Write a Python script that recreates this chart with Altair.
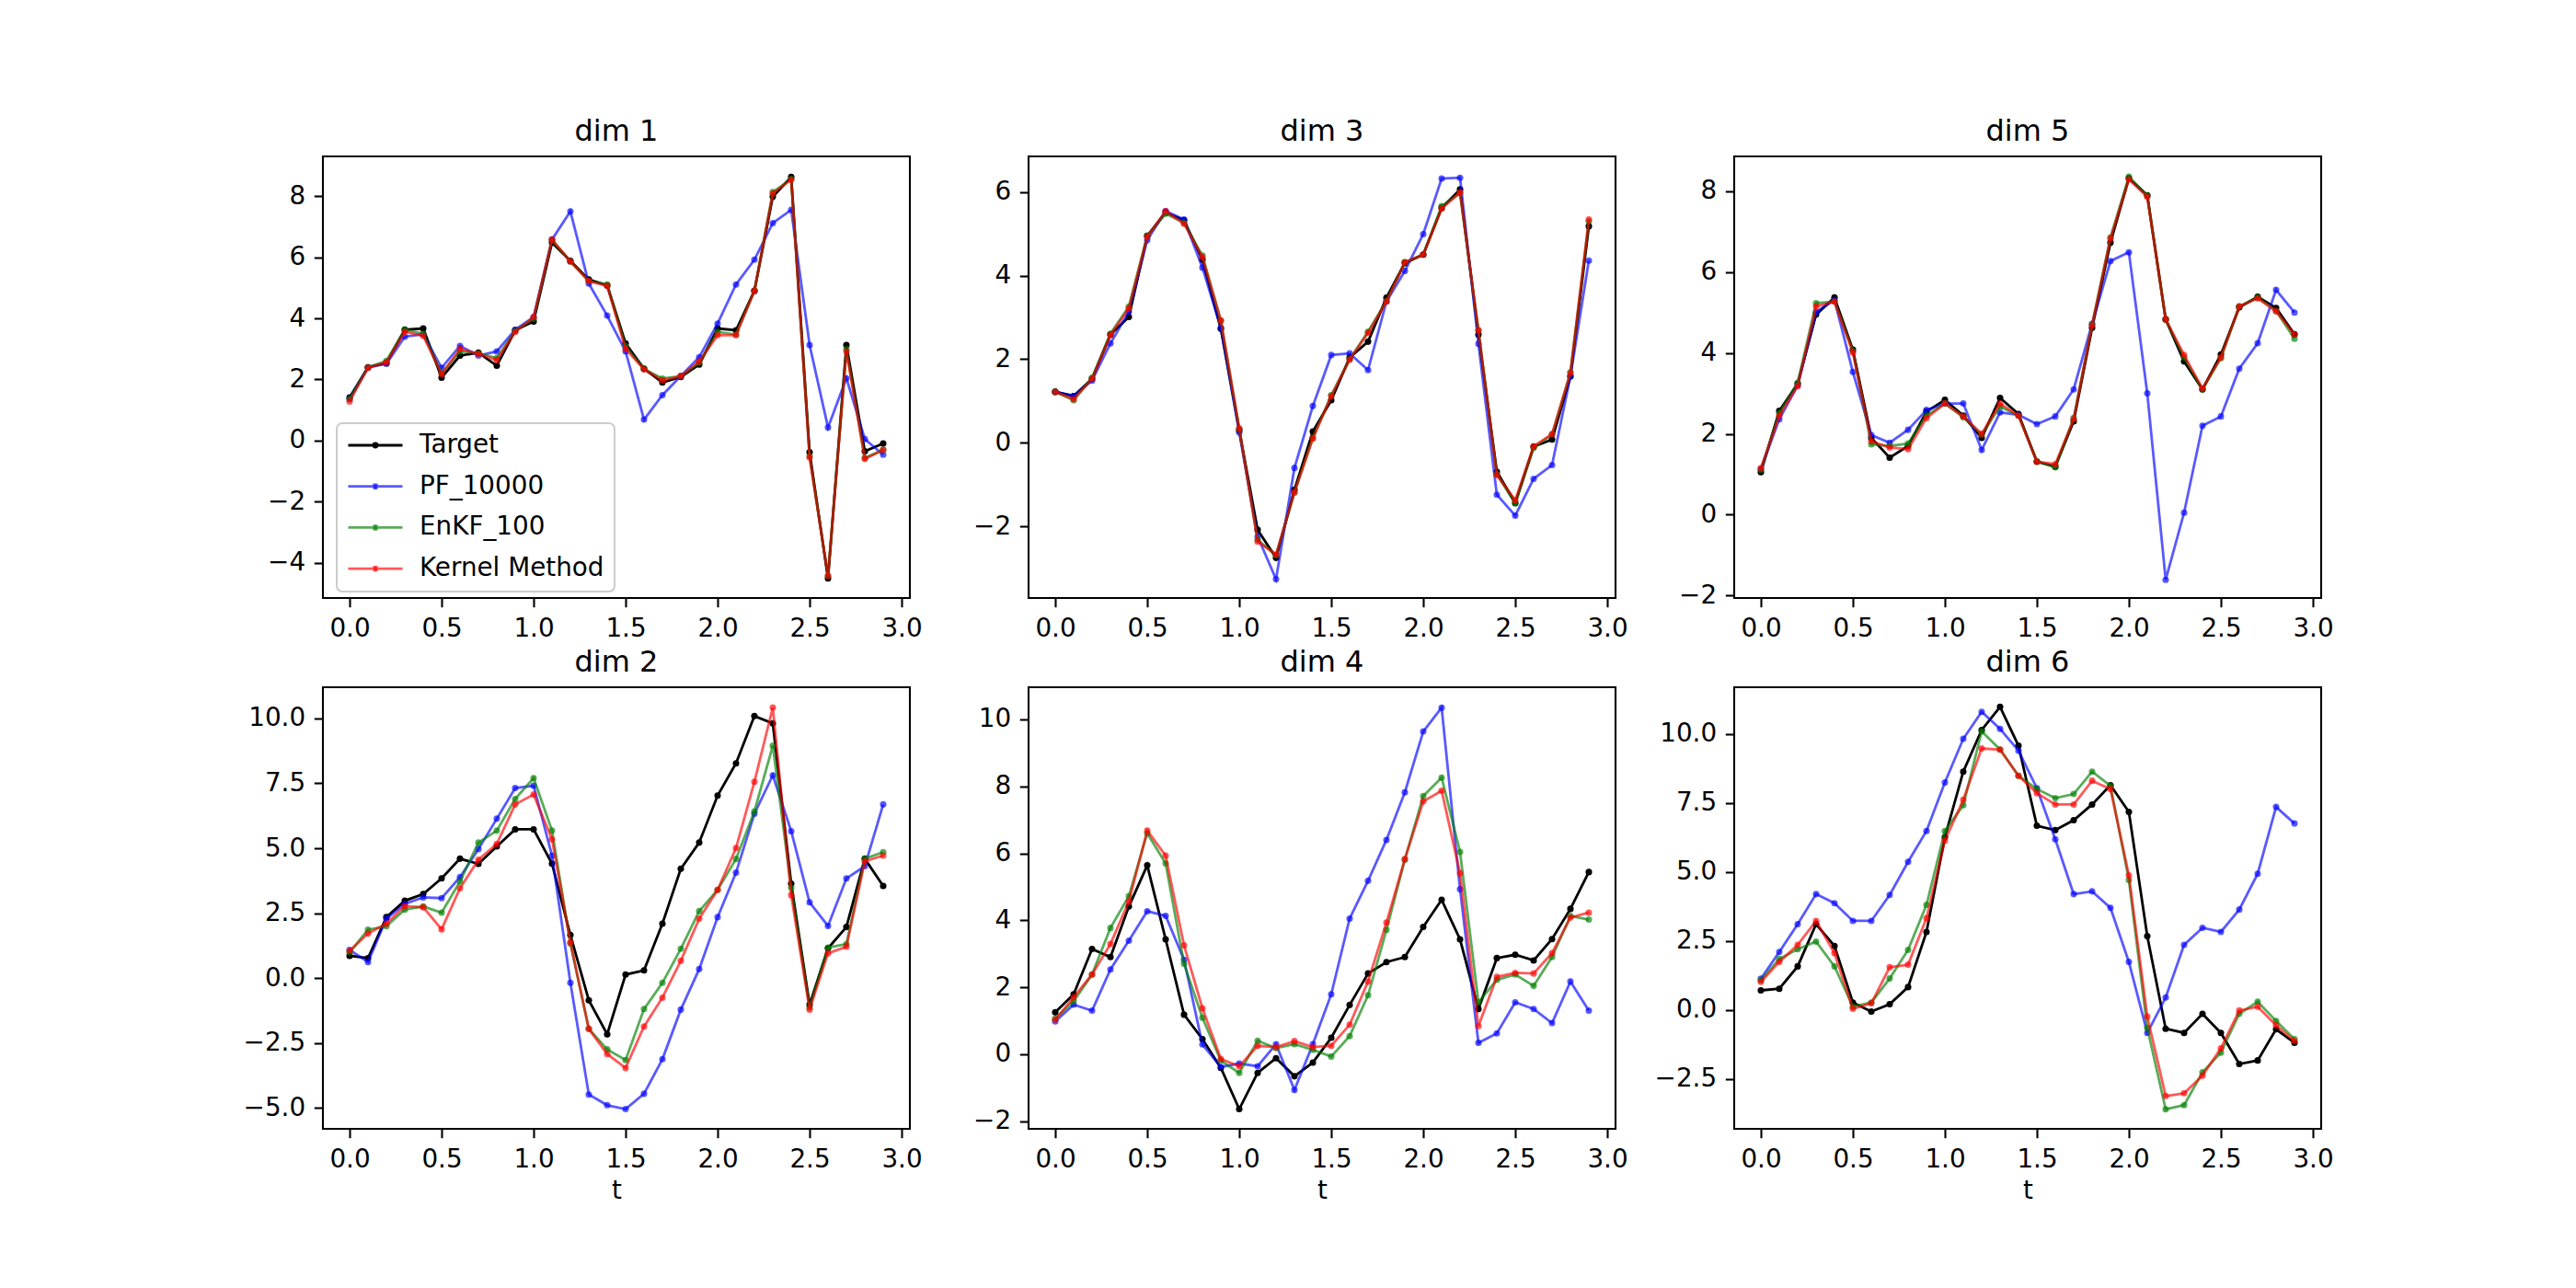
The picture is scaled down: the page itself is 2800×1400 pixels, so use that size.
import altair as alt
import pandas as pd

T = [0.0, 0.1, 0.2, 0.3, 0.4, 0.5, 0.6, 0.7, 0.8, 0.9,
     1.0, 1.1, 1.2, 1.3, 1.4, 1.5, 1.6, 1.7, 1.8, 1.9,
     2.0, 2.1, 2.2, 2.3, 2.4, 2.5, 2.6, 2.7, 2.8, 2.9]

SERIES = ["Target", "PF_10000", "EnKF_100", "Kernel Method"]
COLORS = ["#000000", "rgba(0,0,255,0.65)", "rgba(0,128,0,0.65)", "rgba(255,0,0,0.65)"]

# dim 1
D1_TARGET = [1.41, 2.40, 2.54, 3.63, 3.67, 2.06, 2.78, 2.88, 2.45, 3.61, 3.90, 6.48, 5.88, 5.27, 5.08, 3.18, 2.35, 1.90, 2.08, 2.49, 3.67, 3.61, 4.90, 7.98, 8.63, -0.38, -4.51, 3.13, -0.35, -0.09]
D1_PF = [1.36, 2.40, 2.51, 3.40, 3.48, 2.38, 3.10, 2.78, 2.92, 3.63, 4.04, 6.58, 7.50, 5.14, 4.09, 2.92, 0.69, 1.49, 2.11, 2.73, 3.83, 5.11, 5.92, 7.12, 7.55, 3.13, 0.43, 2.04, 0.05, -0.46]
D1_ENKF = [1.36, 2.40, 2.61, 3.63, 3.50, 2.20, 2.92, 2.86, 2.70, 3.59, 3.99, 6.56, 5.86, 5.22, 5.11, 3.08, 2.35, 2.03, 2.11, 2.54, 3.56, 3.47, 4.90, 8.13, 8.56, -0.51, -4.43, 2.99, -0.57, -0.30]
D1_KERNEL = [1.28, 2.38, 2.56, 3.56, 3.43, 2.17, 3.00, 2.84, 2.63, 3.56, 4.04, 6.58, 5.86, 5.22, 5.06, 3.00, 2.33, 1.97, 2.11, 2.59, 3.45, 3.45, 4.90, 8.09, 8.54, -0.55, -4.43, 2.92, -0.60, -0.30]

# dim 2
D2_TARGET = [0.86, 0.77, 2.35, 2.98, 3.24, 3.84, 4.60, 4.40, 5.07, 5.73, 5.73, 4.41, 1.66, -0.85, -2.16, 0.14, 0.30, 2.10, 4.21, 5.22, 7.03, 8.27, 10.09, 9.81, 3.64, -1.02, 1.15, 1.97, 4.60, 3.55]
D2_PF = [1.09, 0.62, 2.29, 2.86, 3.11, 3.08, 3.89, 4.97, 6.14, 7.32, 7.41, 4.72, -0.18, -4.48, -4.89, -5.04, -4.45, -3.12, -1.21, 0.35, 2.35, 4.06, 6.33, 7.81, 5.66, 2.92, 2.01, 3.84, 4.31, 6.69]
D2_ENKF = [0.99, 1.87, 2.00, 2.64, 2.76, 2.52, 3.72, 5.22, 5.68, 6.90, 7.70, 5.68, 1.34, -1.95, -2.74, -3.15, -1.19, -0.18, 1.13, 2.58, 3.40, 4.59, 6.42, 8.95, 3.49, -1.13, 1.18, 1.31, 4.60, 4.85]
D2_KERNEL = [1.05, 1.72, 2.10, 2.77, 2.73, 1.88, 3.46, 4.56, 5.17, 6.69, 7.07, 5.35, 1.38, -1.95, -2.92, -3.46, -1.86, -0.75, 0.67, 2.29, 3.40, 5.01, 7.56, 10.42, 3.20, -1.21, 0.96, 1.21, 4.50, 4.72]

# dim 3
D3_TARGET = [1.22, 1.12, 1.53, 2.59, 3.01, 4.95, 5.51, 5.32, 4.38, 2.73, 0.30, -2.08, -2.75, -1.12, 0.27, 1.02, 2.04, 2.42, 3.47, 4.30, 4.50, 5.62, 6.06, 2.59, -0.69, -1.44, -0.09, 0.08, 1.59, 5.18]
D3_PF = [1.22, 1.12, 1.49, 2.38, 3.14, 4.85, 5.54, 5.34, 4.19, 2.75, 0.25, -2.24, -3.26, -0.60, 0.88, 2.10, 2.14, 1.74, 3.38, 4.11, 4.99, 6.32, 6.34, 2.37, -1.24, -1.74, -0.86, -0.53, 1.59, 4.36]
D3_ENKF = [1.22, 1.02, 1.56, 2.61, 3.26, 4.95, 5.48, 5.26, 4.48, 2.92, 0.33, -2.32, -2.69, -1.19, 0.12, 1.14, 2.00, 2.66, 3.39, 4.32, 4.50, 5.66, 5.97, 2.69, -0.75, -1.45, -0.12, 0.20, 1.69, 5.30]
D3_KERNEL = [1.22, 1.04, 1.53, 2.58, 3.22, 4.93, 5.54, 5.24, 4.44, 2.93, 0.35, -2.36, -2.67, -1.18, 0.10, 1.12, 1.99, 2.63, 3.38, 4.32, 4.50, 5.60, 5.99, 2.69, -0.77, -1.37, -0.08, 0.21, 1.67, 5.34]

# dim 4
D4_TARGET = [1.25, 1.79, 3.14, 2.90, 4.41, 5.64, 3.43, 1.18, 0.45, -0.41, -1.64, -0.56, -0.12, -0.66, -0.25, 0.49, 1.47, 2.41, 2.75, 2.90, 3.80, 4.61, 3.43, 1.35, 2.87, 2.97, 2.80, 3.44, 4.34, 5.44]
D4_PF = [0.98, 1.48, 1.30, 2.53, 3.39, 4.27, 4.13, 2.82, 0.29, -0.38, -0.28, -0.36, 0.30, -1.07, 0.30, 1.79, 4.05, 5.18, 6.40, 7.82, 9.64, 10.35, 4.93, 0.34, 0.62, 1.55, 1.35, 0.93, 2.17, 1.30]
D4_ENKF = [1.06, 1.58, 2.38, 3.77, 4.72, 6.60, 5.70, 2.70, 1.09, -0.19, -0.56, 0.40, 0.18, 0.30, 0.13, -0.07, 0.54, 1.76, 3.71, 5.81, 7.71, 8.26, 6.04, 1.55, 2.22, 2.38, 2.04, 2.90, 4.13, 4.02]
D4_KERNEL = [1.03, 1.70, 2.38, 3.29, 4.56, 6.68, 5.93, 3.25, 1.37, -0.14, -0.36, 0.25, 0.21, 0.39, 0.21, 0.25, 0.88, 2.17, 3.93, 5.83, 7.55, 7.87, 5.40, 0.84, 2.31, 2.43, 2.41, 3.02, 4.08, 4.23]

# dim 5
D5_TARGET = [1.05, 2.57, 3.24, 4.95, 5.37, 4.08, 1.90, 1.41, 1.70, 2.55, 2.84, 2.45, 1.90, 2.89, 2.49, 1.31, 1.19, 2.31, 4.62, 6.73, 8.32, 7.90, 4.83, 3.79, 3.10, 3.96, 5.13, 5.39, 5.11, 4.46]
D5_PF = [1.13, 2.36, 3.20, 5.01, 5.31, 3.53, 1.97, 1.78, 2.10, 2.59, 2.75, 2.75, 1.60, 2.53, 2.47, 2.24, 2.43, 3.10, 4.72, 6.27, 6.49, 3.00, -1.61, 0.05, 2.20, 2.43, 3.61, 4.24, 5.56, 5.00]
D5_ENKF = [1.11, 2.51, 3.26, 5.23, 5.27, 4.05, 1.74, 1.70, 1.76, 2.45, 2.75, 2.41, 1.98, 2.67, 2.45, 1.32, 1.17, 2.39, 4.70, 6.86, 8.36, 7.89, 4.83, 3.89, 3.10, 3.87, 5.15, 5.37, 5.04, 4.35]
D5_KERNEL = [1.15, 2.45, 3.18, 5.15, 5.27, 4.01, 1.82, 1.66, 1.62, 2.39, 2.75, 2.43, 2.00, 2.75, 2.45, 1.31, 1.25, 2.36, 4.68, 6.83, 8.29, 7.86, 4.83, 3.95, 3.12, 3.89, 5.15, 5.35, 5.03, 4.46]

# dim 6
D6_TARGET = [0.71, 0.77, 1.58, 3.11, 2.32, 0.27, -0.06, 0.21, 0.83, 2.83, 6.26, 8.64, 10.15, 10.99, 9.58, 6.68, 6.52, 6.88, 7.45, 8.15, 7.18, 2.68, -0.68, -0.83, -0.14, -0.83, -1.96, -1.83, -0.70, -1.19]
D6_PF = [1.13, 2.10, 3.11, 4.20, 3.87, 3.23, 3.23, 4.17, 5.37, 6.49, 8.25, 9.83, 10.81, 10.19, 9.40, 8.04, 6.19, 4.20, 4.30, 3.70, 1.74, -0.83, 0.45, 2.36, 2.98, 2.83, 3.64, 4.94, 7.36, 6.76]
D6_ENKF = [1.08, 1.85, 2.20, 2.48, 1.58, 0.12, 0.27, 1.14, 2.18, 3.81, 6.49, 7.42, 10.10, 9.44, 8.49, 8.01, 7.68, 7.83, 8.64, 8.13, 4.71, -0.65, -3.60, -3.45, -2.26, -1.55, -0.14, 0.30, -0.40, -1.06]
D6_KERNEL = [1.02, 1.74, 2.36, 3.23, 2.06, 0.04, 0.24, 1.55, 1.64, 3.33, 6.14, 7.62, 9.48, 9.44, 8.49, 7.86, 7.45, 7.45, 8.31, 8.01, 4.88, -0.24, -3.12, -3.02, -2.38, -1.39, -0.02, 0.12, -0.56, -1.13]

XTICKS = [0.0, 0.5, 1.0, 1.5, 2.0, 2.5, 3.0]

DIMS = {
    "dim 1": (D1_TARGET, D1_PF, D1_ENKF, D1_KERNEL),
    "dim 2": (D2_TARGET, D2_PF, D2_ENKF, D2_KERNEL),
    "dim 3": (D3_TARGET, D3_PF, D3_ENKF, D3_KERNEL),
    "dim 4": (D4_TARGET, D4_PF, D4_ENKF, D4_KERNEL),
    "dim 5": (D5_TARGET, D5_PF, D5_ENKF, D5_KERNEL),
    "dim 6": (D6_TARGET, D6_PF, D6_ENKF, D6_KERNEL),
}

rows = []
for dim, groups in DIMS.items():
    for s, vals in zip(SERIES, groups):
        for t, v in zip(T, vals):
            rows.append({"dim": dim, "series": s, "t": t, "value": v})
df = pd.DataFrame(rows)

FONT = "DejaVu Sans"
FS = 27.8
LEGEND_PATH = ("M-1,0L1,0"
               "M0.07,0A0.07,0.07,0,1,1,-0.07,0A0.07,0.07,0,1,1,0.07,0"
               "M0.03,0A0.03,0.03,0,1,1,-0.03,0A0.03,0.03,0,1,1,0.03,0")

cscale = alt.Scale(domain=SERIES, range=COLORS)


def panel(dim, ydom, yticks, yfmt, with_legend, xtitle):
    base = alt.Chart(df).transform_filter(alt.datum.dim == dim)
    xaxis = alt.Axis(values=XTICKS, format=".1f", title="t") if xtitle else alt.Axis(values=XTICKS, format=".1f", title=None)
    x = alt.X("t:Q", scale=alt.Scale(domain=[-0.145, 3.045], nice=False, zero=False), axis=xaxis)
    y = alt.Y("value:Q", scale=alt.Scale(domain=ydom, nice=False, zero=False),
              axis=alt.Axis(values=yticks, format=yfmt, title=None))
    if with_legend:
        leg = alt.Legend(orient="none", legendX=15, legendY=290, title=None,
                         symbolType=LEGEND_PATH, symbolSize=3481, symbolStrokeWidth=2.8,
                         labelFontSize=FS, labelFont=FONT, labelColor="black",
                         clipHeight=26, rowPadding=16.7, padding=11, labelOffset=17,
                         fillColor="white", strokeColor="#cccccc", cornerRadius=6,
                         labelLimit=400)
    else:
        leg = None
    layers = []
    for s in SERIES:
        b = base.transform_filter(alt.datum.series == s)
        layers.append(b.mark_line(strokeWidth=2.8).encode(
            x=x, y=y, color=alt.Color("series:N", scale=cscale, legend=leg)))
        layers.append(b.mark_circle(size=50, opacity=1).encode(
            x=x, y=y, color=alt.Color("series:N", scale=cscale, legend=None)))
    return alt.layer(*layers).properties(
        width=638, height=480,
        title=alt.TitleParams(dim, fontSize=32, font=FONT, fontWeight="normal", color="black",
                              offset=10, anchor="middle", frame="group"))


p1 = panel("dim 1", [-5.15, 9.3], [-4, -2, 0, 2, 4, 6, 8], "d", True, False)
p3 = panel("dim 3", [-3.71, 6.85], [-2, 0, 2, 4, 6], "d", False, False)
p5 = panel("dim 5", [-2.06, 8.86], [-2, 0, 2, 4, 6, 8], "d", False, False)
p2 = panel("dim 2", [-5.8, 11.2], [-5, -2.5, 0, 2.5, 5, 7.5, 10], ".1f", False, True)
p4 = panel("dim 4", [-2.23, 10.96], [-2, 0, 2, 4, 6, 8, 10], "d", False, True)
p6 = panel("dim 6", [-4.31, 11.7], [-2.5, 0, 2.5, 5, 7.5, 10], ".1f", False, True)

chart = alt.concat(p1, p3, p5, p2, p4, p6, columns=3,
                   spacing={"row": 97, "column": 129}, bounds="flush").resolve_scale(
    x="independent", y="independent", color="independent").resolve_legend(
    color="independent").properties(
    padding={"left": 255, "top": 117, "right": 10, "bottom": 10},
    background="white"
).configure_view(
    stroke="black", strokeWidth=2.1
).configure_axis(
    domain=False, grid=False, tickColor="black", tickWidth=2.1, tickSize=9.7,
    labelFontSize=FS, labelFont=FONT, labelColor="black", labelPadding=9.7,
    titleFontSize=FS, titleFont=FONT, titleFontWeight="normal", titleColor="black",
    titlePadding=6
).configure_legend(
    strokeWidth=2
)

chart.save("out.html", embed_options={"renderer": "svg", "actions": False})
